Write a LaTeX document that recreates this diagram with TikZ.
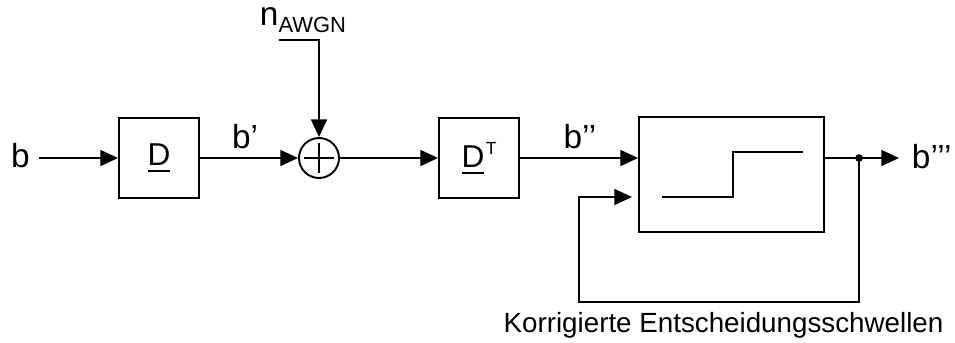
\documentclass[tikz,border=0pt]{standalone}
\usepackage{fontspec}
\setmainfont{Liberation Sans}
\usetikzlibrary{arrows.meta,positioning}
\newcommand{\ulbar}[1]{\setbox0\hbox{#1}\rlap{\rule[-3.5pt]{\wd0}{1.1pt}}\box0}

\begin{document}
\begin{tikzpicture}[
  x=0.02cm, y=-0.02cm, line width=1.1pt,
  box/.style={draw, minimum width=1.6cm, minimum height=1.6cm, inner sep=0pt, font=\fontsize{18}{20}\selectfont},
  lbl/.style={inner sep=0pt, font=\fontsize{19}{21}\selectfont},
  arr/.style={-{Triangle[length=10pt,width=9pt]}},
]
\useasboundingbox (0,0) rectangle (955,342);

% CHANNEL
\node[lbl, anchor=base] (lb) at (20.5,167) {b};
\coordinate (bin) at (39,158);
\node[box] (D) at (159,158) {\ulbar{D}};
\node[draw, circle, minimum size=0.8cm, inner sep=0pt] (sum) at (319,158) {};
\draw[line width=1pt] (sum.center) +(-15,0) -- +(15,0) (sum.center) +(0,-15) -- +(0,15);
\node[lbl, anchor=base west] (nlab) at (259,25) {n\raisebox{-4.5pt}{\fontsize{12.5}{13}\selectfont AWGN}};
\coordinate (nin) at (279,40);
\node[box] (DT) at (479,158) {\ulbar{D}\kern0.8pt\raisebox{7.4pt}{\fontsize{10}{11}\selectfont T}};

\draw[arr] (bin) -- (D);
\draw[arr] (D) -- (sum);
\node[lbl, anchor=base] (lb1) at (245,148) {b’};
\draw[arr] (nin) -| (sum);
\draw[arr] (sum) -- (DT);

% DECISION
\node[draw, minimum width=3.7cm, minimum height=2.3cm, inner sep=0pt] (dec) at (731.5,174.5) {};
\draw (662,197) -- (733,197) -- (733,152) -- (803,152);
\node[lbl, anchor=base] (lb2) at (580,148) {b’’};
\draw[arr] (DT) -- (DT -| dec.west);

\coordinate (dot) at (859,158);
\coordinate (out) at (899,158);
\node[lbl, anchor=base west] (lb3) at (911,168) {b’’’};
\draw[arr] (dec.east |- dot) -- (out);
\fill (dot) circle (2.2pt);

% FEEDBACK
\coordinate (fb) at (579,302);
\coordinate (fbin) at (632,197);
\draw[arr] (dot) |- (fb) |- (fbin);
\node[inner sep=0pt, anchor=base, font=\fontsize{15.8}{18}\selectfont] (fblab) at (723.5,332) {Korrigierte Entscheidungsschwellen};
\end{tikzpicture}
\end{document}
